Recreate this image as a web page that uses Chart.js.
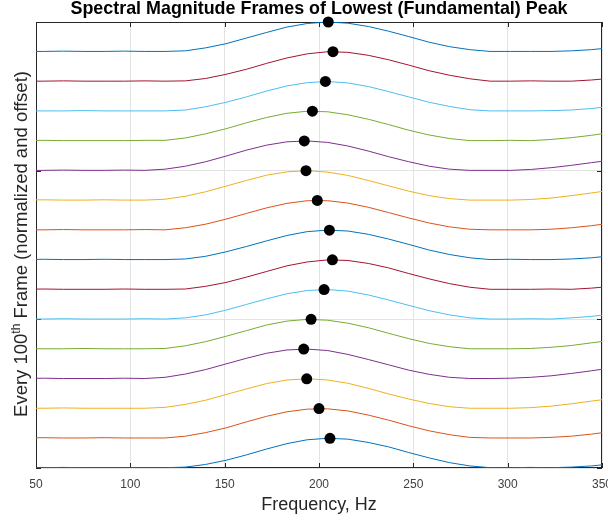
<!DOCTYPE html>
<html>
<head>
<meta charset="utf-8">
<title>Spectral Magnitude Frames</title>
<script src="https://cdn.jsdelivr.net/npm/chart.js@4.4.1/dist/chart.umd.min.js"></script>
<style>
  html, body { margin: 0; padding: 0; background: #fff; }
  canvas { display: block; }
</style>
</head>
<body>
<canvas id="chart" width="608" height="522"></canvas>
<script>
// FFT bin centres (Hz) shared by every frame
const freqBins = [43.1, 53.8, 64.6, 75.4, 86.1, 96.9, 107.7, 118.4, 129.2, 139.9,
  150.7, 161.5, 172.3, 183.0, 193.8, 204.6, 215.3, 226.1, 236.9, 247.6,
  258.4, 269.2, 279.9, 290.7, 301.5, 312.2, 323.0, 333.8, 344.5, 355.3];

// normalized magnitude of every 100th frame, bottom frame first
const frame01 = [0.01, 0.01, 0.02, 0.01, 0.01, 0.01, 0.01, 0.01, 0.03, 0.12, 0.26, 0.44, 0.64, 0.82, 0.95, 1.00, 0.97, 0.86, 0.71, 0.52, 0.34, 0.18, 0.07, 0.01, 0.01, 0.02, 0.01, 0.03, 0.07, 0.14];
const frame02 = [0.01, 0.02, 0.01, 0.01, 0.02, 0.01, 0.01, 0.01, 0.07, 0.19, 0.35, 0.55, 0.74, 0.89, 0.98, 0.99, 0.92, 0.78, 0.61, 0.42, 0.25, 0.12, 0.03, 0.01, 0.01, 0.01, 0.03, 0.07, 0.14, 0.23];
const frame03 = [0.01, 0.01, 0.02, 0.01, 0.01, 0.01, 0.01, 0.04, 0.14, 0.28, 0.47, 0.66, 0.84, 0.96, 1.00, 0.96, 0.85, 0.68, 0.49, 0.32, 0.17, 0.06, 0.01, 0.01, 0.01, 0.03, 0.08, 0.16, 0.25, 0.34];
const frame04 = [0.01, 0.02, 0.01, 0.01, 0.01, 0.02, 0.01, 0.05, 0.16, 0.31, 0.50, 0.69, 0.86, 0.97, 1.00, 0.95, 0.82, 0.65, 0.47, 0.29, 0.15, 0.05, 0.01, 0.01, 0.02, 0.05, 0.10, 0.18, 0.27, 0.37];
const frame05 = [0.01, 0.01, 0.01, 0.02, 0.01, 0.01, 0.01, 0.02, 0.11, 0.25, 0.43, 0.62, 0.81, 0.94, 1.00, 0.97, 0.87, 0.72, 0.53, 0.35, 0.19, 0.08, 0.01, 0.01, 0.01, 0.02, 0.06, 0.12, 0.21, 0.30];
const frame06 = [0.01, 0.01, 0.02, 0.01, 0.01, 0.01, 0.02, 0.01, 0.05, 0.15, 0.31, 0.50, 0.69, 0.86, 0.97, 1.00, 0.95, 0.82, 0.65, 0.47, 0.29, 0.15, 0.05, 0.01, 0.01, 0.02, 0.01, 0.05, 0.10, 0.18];
const frame07 = [0.01, 0.02, 0.01, 0.01, 0.01, 0.02, 0.01, 0.01, 0.02, 0.11, 0.24, 0.42, 0.61, 0.80, 0.93, 1.00, 0.98, 0.88, 0.73, 0.54, 0.36, 0.20, 0.08, 0.01, 0.01, 0.01, 0.02, 0.01, 0.05, 0.11];
const frame08 = [0.01, 0.02, 0.01, 0.01, 0.02, 0.01, 0.01, 0.01, 0.03, 0.12, 0.27, 0.45, 0.64, 0.82, 0.95, 1.00, 0.97, 0.86, 0.70, 0.52, 0.33, 0.18, 0.07, 0.01, 0.02, 0.01, 0.01, 0.03, 0.07, 0.14];
const frame09 = [0.01, 0.01, 0.02, 0.01, 0.01, 0.01, 0.02, 0.01, 0.08, 0.20, 0.37, 0.56, 0.75, 0.90, 0.99, 0.99, 0.91, 0.77, 0.59, 0.41, 0.24, 0.11, 0.03, 0.01, 0.01, 0.01, 0.03, 0.08, 0.15, 0.24];
const frame10 = [0.01, 0.02, 0.01, 0.01, 0.02, 0.01, 0.01, 0.04, 0.14, 0.29, 0.48, 0.67, 0.85, 0.96, 1.00, 0.95, 0.84, 0.67, 0.49, 0.31, 0.16, 0.06, 0.01, 0.01, 0.01, 0.03, 0.08, 0.16, 0.25, 0.35];
const frame11 = [0.01, 0.01, 0.02, 0.01, 0.01, 0.02, 0.01, 0.05, 0.15, 0.30, 0.49, 0.69, 0.86, 0.97, 1.00, 0.95, 0.83, 0.66, 0.47, 0.30, 0.15, 0.05, 0.01, 0.01, 0.01, 0.04, 0.10, 0.18, 0.27, 0.36];
const frame12 = [0.01, 0.02, 0.01, 0.01, 0.01, 0.01, 0.02, 0.02, 0.10, 0.24, 0.41, 0.61, 0.79, 0.93, 1.00, 0.98, 0.88, 0.73, 0.55, 0.36, 0.20, 0.08, 0.01, 0.01, 0.02, 0.01, 0.05, 0.11, 0.19, 0.29];
const frame13 = [0.01, 0.01, 0.01, 0.02, 0.01, 0.01, 0.01, 0.01, 0.04, 0.15, 0.30, 0.48, 0.68, 0.85, 0.96, 1.00, 0.95, 0.83, 0.66, 0.48, 0.30, 0.16, 0.05, 0.01, 0.01, 0.01, 0.02, 0.04, 0.09, 0.17];
const frame14 = [0.01, 0.01, 0.02, 0.01, 0.01, 0.01, 0.02, 0.01, 0.02, 0.10, 0.24, 0.41, 0.61, 0.79, 0.93, 1.00, 0.98, 0.88, 0.73, 0.55, 0.36, 0.21, 0.09, 0.01, 0.01, 0.02, 0.01, 0.01, 0.05, 0.11];
const frame15 = [0.01, 0.01, 0.02, 0.01, 0.01, 0.02, 0.01, 0.01, 0.03, 0.13, 0.27, 0.46, 0.65, 0.83, 0.95, 1.00, 0.96, 0.85, 0.69, 0.51, 0.32, 0.17, 0.07, 0.01, 0.01, 0.01, 0.01, 0.03, 0.07, 0.14];

// interpolated fundamental peak of each frame (black dots), bottom frame first
const peakFreqs = [205.8, 200.0, 193.5, 191.9, 195.8, 202.7, 207.1, 205.5, 199.1, 193.1, 192.2, 196.5, 203.4, 207.4, 204.9];
const peakMags = [1, 1, 1, 1, 1, 1, 1, 1, 1, 1, 1, 1, 1, 1, 1];

// x ticks 50..350, hidden y ticks at 0, 5, 10, 15
const xTicks = [50, 100, 150, 200, 250, 300, 350];
const yTicks = [0, 5, 10, 15];

const frames = [frame01, frame02, frame03, frame04, frame05, frame06, frame07, frame08,
  frame09, frame10, frame11, frame12, frame13, frame14, frame15];

// MATLAB default colour order
const lineColors = ['#0072BD', '#D95319', '#EDB120', '#7E2F8E', '#77AC30', '#4DBEEE', '#A2142F'];

const FONT = '"Liberation Sans", Arial, Helvetica, sans-serif';
const AXIS = '#262626';

const datasets = frames.map((mags, i) => ({
  label: 'Frame ' + (i + 1),
  data: mags.map((m, j) => ({ x: freqBins[j], y: i + m })), // each frame offset by 1
  borderColor: lineColors[i % lineColors.length],
  borderWidth: 1,
  pointRadius: 0,
  tension: 0,
  order: frames.length - i
}));

datasets.push({
  label: 'Peaks',
  type: 'scatter',
  data: peakFreqs.map((f, i) => ({ x: f, y: i + peakMags[i] })),
  backgroundColor: '#000',
  borderColor: '#000',
  pointRadius: 5.5,
  pointBorderWidth: 0,
  showLine: false,
  clip: false,
  order: -1
});

// box, inward tick marks (MATLAB style) and the y label with superscript
const matlabAxes = {
  id: 'matlabAxes',
  beforeDatasetsDraw(chart) {
    const ctx = chart.ctx;
    const { left, right, top, bottom } = chart.chartArea;
    const xs = chart.scales.x, ys = chart.scales.y;
    ctx.save();
    ctx.strokeStyle = AXIS;
    ctx.lineWidth = 1;
    ctx.strokeRect(left + 0.5, top + 0.5, right - left - 1, bottom - top - 1);
    ctx.beginPath();
    xTicks.forEach(v => {
      const px = Math.round(xs.getPixelForValue(v)) + 0.5;
      ctx.moveTo(px, bottom); ctx.lineTo(px, bottom - 5);
      ctx.moveTo(px, top); ctx.lineTo(px, top + 5);
    });
    yTicks.forEach(v => {
      const py = Math.round(ys.getPixelForValue(v)) + 0.5;
      ctx.moveTo(left, py); ctx.lineTo(left + 5, py);
      ctx.moveTo(right, py); ctx.lineTo(right - 5, py);
    });
    ctx.stroke();
    ctx.restore();
  },
  afterDraw(chart) {
    const ctx = chart.ctx;
    const big = '18.5px ' + FONT, small = '12px ' + FONT;
    const p1 = 'Every 100', sup = 'th', p2 = ' Frame (normalized and offset)';
    ctx.save();
    ctx.font = big;
    const w1 = ctx.measureText(p1).width, w3 = ctx.measureText(p2).width;
    ctx.font = small;
    const w2 = ctx.measureText(sup).width;
    ctx.translate(21, 244);
    ctx.rotate(-Math.PI / 2);
    ctx.fillStyle = AXIS;
    ctx.textBaseline = 'alphabetic';
    ctx.textAlign = 'left';
    let x = -(w1 + w2 + w3) / 2;
    ctx.font = big;
    ctx.fillText(p1, x, 6);
    x += w1;
    ctx.font = small;
    ctx.fillText(sup, x, -1.5);
    x += w2;
    ctx.font = big;
    ctx.fillText(p2, x, 6);
    ctx.restore();
  }
};

new Chart(document.getElementById('chart'), {
  type: 'line',
  data: { datasets },
  plugins: [matlabAxes],
  options: {
    responsive: false,
    animation: false,
    devicePixelRatio: 1,
    layout: { padding: { left: 36, right: 6, top: 0, bottom: 0 } },
    plugins: {
      legend: { display: false },
      tooltip: { enabled: false },
      title: {
        display: true,
        text: 'Spectral Magnitude Frames of Lowest (Fundamental) Peak',
        color: '#000',
        font: { family: FONT, size: 17.9, weight: 'bold', lineHeight: 1 },
        padding: { top: 0.5, bottom: 3.6 }
      }
    },
    scales: {
      x: {
        type: 'linear',
        min: 50,
        max: 350,
        afterBuildTicks: s => { s.ticks = xTicks.map(v => ({ value: v })); },
        afterFit: s => { s.height = 54; s.paddingLeft = 0; s.paddingRight = 0; },
        ticks: {
          color: '#404040',
          padding: 9,
          maxRotation: 0,
          autoSkip: false,
          font: { family: FONT, size: 12 }
        },
        grid: { color: '#e3e3e3', lineWidth: 1, drawTicks: false },
        border: { display: false },
        title: {
          display: true,
          text: 'Frequency, Hz',
          color: AXIS,
          font: { family: FONT, size: 18 },
          padding: { top: 0, bottom: 6 }
        }
      },
      y: {
        type: 'linear',
        min: 0,
        max: 15,
        afterBuildTicks: s => { s.ticks = yTicks.map(v => ({ value: v })); },
        afterFit: s => { s.width = 0; },
        ticks: { display: false },
        grid: { color: '#e3e3e3', lineWidth: 1, drawTicks: false },
        border: { display: false }
      }
    }
  }
});
</script>
</body>
</html>
